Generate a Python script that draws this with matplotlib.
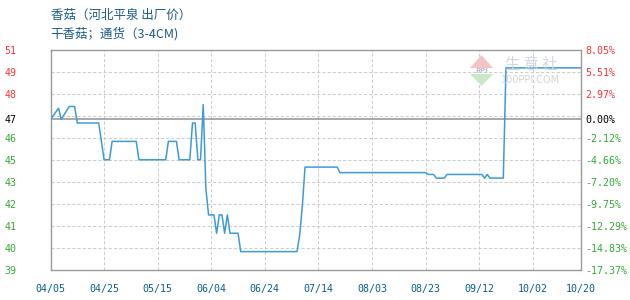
# -*- coding: utf-8 -*-
"""
Price chart for dried shiitake (Hebei Pingquan, ex-factory price)
"""

import matplotlib
matplotlib.use("Agg")
import matplotlib.pyplot as plt
import matplotlib.dates as mdates
from matplotlib.patches import Polygon
import pandas as pd

plt.rcParams['font.family'] = ['Noto Sans CJK SC', 'DejaVu Sans']

title_1 = "香菇（河北平泉 出厂价）"
title_2 = "干香菇；通货（3-4CM)"

# price breakpoints
dates = ["2024-04-05", "2024-04-08", "2024-04-09", "2024-04-12", "2024-04-14",
         "2024-04-15", "2024-04-23", "2024-04-25", "2024-04-27", "2024-04-28",
         "2024-05-07", "2024-05-08", "2024-05-18", "2024-05-19", "2024-05-22",
         "2024-05-23", "2024-05-27", "2024-05-28", "2024-05-29", "2024-05-30",
         "2024-05-31", "2024-06-01", "2024-06-02", "2024-06-03", "2024-06-05",
         "2024-06-06", "2024-06-07", "2024-06-08", "2024-06-09", "2024-06-10",
         "2024-06-11", "2024-06-14", "2024-06-15", "2024-07-06", "2024-07-07",
         "2024-07-08", "2024-07-09", "2024-07-21", "2024-07-22", "2024-08-23",
         "2024-08-24", "2024-08-26", "2024-08-27", "2024-08-30", "2024-08-31",
         "2024-09-13", "2024-09-14", "2024-09-15", "2024-09-16", "2024-09-21",
         "2024-09-22", "2024-10-20"]
prices = [47.2, 47.8, 47.2, 47.9, 47.9,
          47.0, 47.0, 45.0, 45.0, 46.0,
          46.0, 45.0, 45.0, 46.0, 46.0,
          45.0, 45.0, 47.0, 47.0, 45.0,
          45.0, 48.0, 43.4, 42.0, 42.0,
          41.0, 42.0, 42.0, 41.0, 42.0,
          41.0, 41.0, 40.0, 40.0, 40.9,
          42.5, 44.6, 44.6, 44.3, 44.3,
          44.2, 44.2, 44.0, 44.0, 44.2,
          44.2, 44.0, 44.2, 44.0, 44.0,
          50.0, 50.0]

base_price = 47.2
y_top = 51.0
y_step = 1.2
left_labels = ["51", "49", "48", "47", "46", "45", "43", "42", "41", "40", "39"]
right_labels = ["8.05%", "5.51%", "2.97%", "0.00%", "-2.12%", "-4.66%",
                "-7.20%", "-9.75%", "-12.29%", "-14.83%", "-17.37%"]
x_ticks = ["2024-04-05", "2024-04-25", "2024-05-15", "2024-06-04", "2024-06-24",
           "2024-07-14", "2024-08-03", "2024-08-23", "2024-09-12", "2024-10-02",
           "2024-10-20"]
x_labels = ["04/05", "04/25", "05/15", "06/04", "06/24", "07/14", "08/03",
            "08/23", "09/12", "10/02", "10/20"]

W, H = 630, 300
fig = plt.figure(figsize=(W / 100, H / 100), dpi=100)
fig.patch.set_facecolor("white")

ax_l, ax_r, ax_t, ax_b = 50.5, 581.0, 49.5, 270.0
ax = fig.add_axes([ax_l / W, 1 - ax_b / H, (ax_r - ax_l) / W, (ax_b - ax_t) / H])

x = pd.to_datetime(dates)
xt = pd.to_datetime(x_ticks)

n_grid = len(left_labels)
grid_vals = [y_top - y_step * k for k in range(n_grid)]
y_bottom = grid_vals[-1]

# dashed grid
for g in grid_vals[1:-1]:
    ax.axhline(g, color="#cccccc", lw=0.75, ls=(0, (3, 2)), zorder=1)
for t in xt[1:-1]:
    ax.axvline(t, color="#cccccc", lw=0.75, ls=(0, (3, 2)), zorder=1)

# base price line
ax.axhline(base_price, color="#999999", lw=1.2, zorder=2)

ax.plot(x, prices, color="#3c9bd8", lw=1.1, zorder=3)

ax.set_xlim(xt[0], xt[-1])
ax.set_ylim(y_bottom, y_top)

for s in ax.spines.values():
    s.set_color("#999999")
    s.set_linewidth(1.0)

# y tick positions: grid values, with the third replaced by the base price
label_pos = list(grid_vals)
label_pos[3] = base_price


def label_color(v):
    if abs(v - base_price) < 1e-9:
        return "black"
    return "#ff3333" if v > base_price else "#33aa33"


ax.set_yticks(label_pos)
ax.set_yticklabels(left_labels, family="DejaVu Sans Mono", fontsize=7.2)
for lab, v in zip(ax.get_yticklabels(), label_pos):
    lab.set_color(label_color(v))
ax.tick_params(axis="y", length=0, pad=24.5)

ax2 = ax.twinx()
ax2.set_ylim(y_bottom, y_top)
ax2.set_yticks(label_pos)
ax2.set_yticklabels(right_labels, family="DejaVu Sans Mono", fontsize=7.2)
for lab, v in zip(ax2.get_yticklabels(), label_pos):
    lab.set_color(label_color(v))
ax2.tick_params(axis="y", length=0, pad=3)
for s in ax2.spines.values():
    s.set_visible(False)

ax.set_xticks(xt)
ax.set_xticklabels(x_labels, family="DejaVu Sans Mono", fontsize=7.2, color="#0b5c8e")
ax.tick_params(axis="x", length=0, pad=10)

# titles
fig.text(ax_l / W, 1 - 15 / H, title_1, fontsize=9, color="#1b5a8a", va="center", ha="left")
fig.text(ax_l / W, 1 - 34 / H, title_2, fontsize=9, color="#1b5a8a", va="center", ha="left")

# faint watermark
def fp(px, py):
    return (px / W, 1 - py / H)

fig.patches.append(Polygon([fp(470, 68), fp(481.5, 55), fp(493, 68)], closed=True,
                           transform=fig.transFigure, facecolor="#f4c4c4", edgecolor="none", zorder=0.5))
fig.patches.append(Polygon([fp(470, 74), fp(493, 74), fp(481.5, 86)], closed=True,
                           transform=fig.transFigure, facecolor="#c8e8c8", edgecolor="none", zorder=0.5))
fig.text(481.5 / W, 1 - 71 / H, "PPI", fontsize=5, color="#b8c0cc", ha="center", va="center",
         family="DejaVu Sans", weight="bold")
fig.text(531 / W, 1 - 64 / H, "生 意 社", fontsize=11, color="#d0d6e4", ha="center", va="center")
fig.text(531 / W, 1 - 80 / H, "100PPI.COM", fontsize=7, color="#d4d4d4", ha="center", va="center",
         family="DejaVu Sans")

fig.savefig("out.png", dpi=100)
